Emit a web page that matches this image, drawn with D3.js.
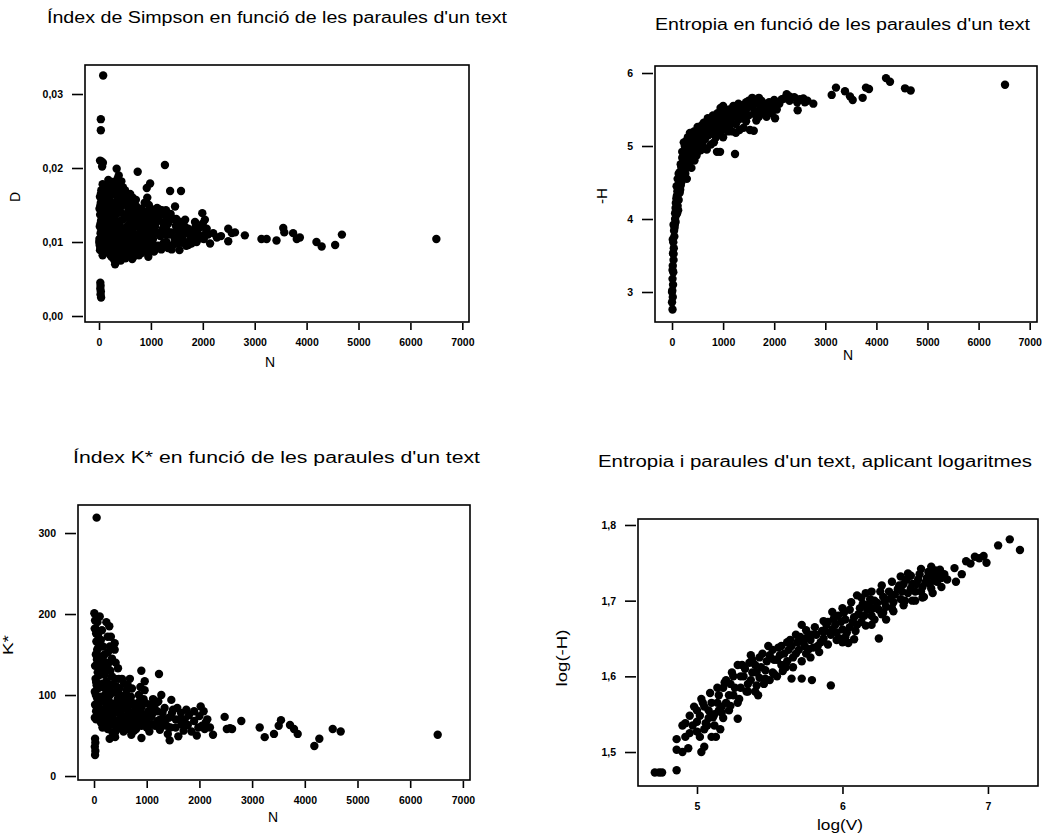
<!DOCTYPE html>
<html>
<head>
<meta charset="utf-8">
<script src="https://cdn.jsdelivr.net/npm/d3@7"></script>
<style>
  body { margin: 0; background: #fff; }
  svg { font-family: "Liberation Sans", Arial, sans-serif; }
</style>
</head>
<body>
<svg id="chart" width="1050" height="838"></svg>
<script>
// ---- data ----

// [N, D]  Simpson index
const simpsonPts = [
  [80,0.0325],[35,0.0266],[35,0.0251],[20,0.0210],[50,0.0209],[75,0.0207],[60,0.0202],
  [25,0.0045],[30,0.0041],[25,0.0037],[35,0.0033],[30,0.0029],[40,0.0025],
  [12,0.0096],[20,0.0089],[8,0.0104],[30,0.0112],[15,0.0121],[40,0.0129],[22,0.0137],[10,0.0145],
  [35,0.0153],[18,0.0161],[45,0.0170],[60,0.0094],[70,0.0082],[55,0.0108],[80,0.0117],[65,0.0126],
  [90,0.0134],[75,0.0143],[85,0.0151],[95,0.0100],
  [5,0.0100],[25,0.0092],[45,0.0098],[50,0.0116],[30,0.0125],[60,0.0133],[50,0.0141],[25,0.0149],
  [55,0.0157],[35,0.0165],[90,0.0160],[100,0.0090],[100,0.0120],[105,0.0142],[90,0.0168],[70,0.0178],[110,0.0174],
  [130,0.0088],[150,0.0097],[125,0.0106],[160,0.0114],[140,0.0123],[175,0.0131],[135,0.0140],
  [165,0.0148],[150,0.0157],[185,0.0166],[140,0.0176],[210,0.0083],[230,0.0092],[200,0.0101],
  [250,0.0110],[215,0.0119],[240,0.0128],[205,0.0137],[260,0.0145],[225,0.0154],[245,0.0168],[270,0.0181],
  [115,0.0097],[180,0.0091],[190,0.0104],[110,0.0113],[200,0.0122],[170,0.0139],[120,0.0150],
  [195,0.0158],[120,0.0163],[210,0.0172],[180,0.0184],[260,0.0087],[280,0.0098],[270,0.0116],
  [290,0.0134],[280,0.0152],[300,0.0165],[240,0.0080],[290,0.0076],
  [310,0.0070],[330,0.0079],[300,0.0088],[350,0.0096],[320,0.0105],[370,0.0114],[340,0.0122],
  [300,0.0131],[360,0.0139],[325,0.0148],[380,0.0157],[340,0.0199],[395,0.0176],[360,0.0186],
  [420,0.0075],[440,0.0086],[410,0.0094],[450,0.0103],[430,0.0112],[405,0.0121],[455,0.0130],
  [420,0.0140],[445,0.0150],[470,0.0165],[430,0.0182],
  [350,0.0075],[380,0.0084],[390,0.0101],[350,0.0109],[400,0.0108],[390,0.0128],[330,0.0139],
  [400,0.0145],[350,0.0160],[410,0.0166],[370,0.0171],[470,0.0080],[480,0.0092],[490,0.0110],
  [470,0.0118],[490,0.0137],[480,0.0155],[460,0.0174],[500,0.0170],[320,0.0177],[380,0.0190],
  [510,0.0078],[540,0.0089],[500,0.0098],[560,0.0107],[520,0.0116],[580,0.0124],[535,0.0133],
  [565,0.0142],[505,0.0152],[590,0.0160],[640,0.0077],[660,0.0086],[620,0.0095],[690,0.0104],
  [650,0.0113],[700,0.0121],[630,0.0130],[680,0.0139],[720,0.0148],[745,0.0195],[710,0.0157],
  [560,0.0081],[600,0.0084],[590,0.0100],[600,0.0112],[540,0.0121],[610,0.0119],[600,0.0137],
  [550,0.0148],[620,0.0151],[560,0.0158],[680,0.0081],[720,0.0090],[700,0.0098],[730,0.0110],
  [740,0.0127],[700,0.0135],[660,0.0145],[740,0.0140],[650,0.0160],[600,0.0165],
  [770,0.0082],[800,0.0091],[760,0.0100],[830,0.0109],[790,0.0118],[850,0.0127],[780,0.0136],
  [820,0.0145],[880,0.0153],[920,0.0173],[985,0.0179],[950,0.0080],[900,0.0088],[970,0.0097],
  [920,0.0106],[1000,0.0115],[940,0.0124],[990,0.0133],[910,0.0141],[960,0.0150],
  [820,0.0085],[860,0.0096],[880,0.0112],[870,0.0120],[830,0.0131],[900,0.0131],[860,0.0140],
  [870,0.0100],[990,0.0088],[1000,0.0105],[960,0.0113],[1000,0.0125],[960,0.0138],[1000,0.0145],[930,0.0160],
  [1060,0.0087],[1100,0.0095],[1040,0.0104],[1150,0.0112],[1080,0.0121],[1130,0.0130],[1060,0.0139],
  [1120,0.0146],[1270,0.0204],[1200,0.0090],[1250,0.0099],[1180,0.0108],[1300,0.0117],[1230,0.0126],
  [1280,0.0135],[1210,0.0143],[1330,0.0092],[1360,0.0110],[1370,0.0169],
  [1050,0.0093],[1090,0.0112],[1020,0.0121],[1100,0.0127],[1040,0.0132],[1170,0.0136],[1150,0.0095],
  [1230,0.0094],[1220,0.0117],[1260,0.0110],[1300,0.0100],[1330,0.0125],[1290,0.0143],[1340,0.0131],[1160,0.0144],
  [1420,0.0096],[1460,0.0104],[1400,0.0113],[1480,0.0122],[1440,0.0131],[1465,0.0148],[1550,0.0089],
  [1590,0.0099],[1530,0.0108],[1620,0.0117],[1560,0.0127],[1580,0.0169],[1680,0.0095],[1700,0.0112],[1650,0.0121],
  [1400,0.0090],[1500,0.0098],[1520,0.0116],[1490,0.0131],[1380,0.0138],[1600,0.0107],[1640,0.0100],
  [1600,0.0122],[1720,0.0118],[1660,0.0130],
  [1720,0.0096],[1760,0.0105],[1800,0.0115],[1850,0.0127],[1880,0.0100],[1920,0.0110],[1950,0.0120],
  [1990,0.0139],[2040,0.0130],[2075,0.0118],[2020,0.0104],[2100,0.0110],[2140,0.0098],
  [1780,0.0098],[1840,0.0108],[1900,0.0117],[1860,0.0120],[1960,0.0105],[2060,0.0112],[2000,0.0125],
  [2200,0.0112],[2270,0.0106],[2350,0.0108],[2490,0.0118],[2490,0.0101],[2560,0.0112],[2620,0.0113],
  [2810,0.0109],[3130,0.0104],[3230,0.0104],[3420,0.0102],[3550,0.0119],[3570,0.0113],[3740,0.0112],
  [3810,0.0104],[3870,0.0106],[4190,0.0100],[4290,0.0094],[4550,0.0096],[4680,0.0110],[6500,0.0104]
];

// [N, -H]  entropy
const entropyPts = [
  [10,2.76],[0,2.86],[15,2.93],[5,3.02],[20,3.10],[10,3.18],[25,3.27],[15,3.36],[30,3.44],[20,3.53],
  [35,3.60],[25,3.68],[45,3.76],[40,3.84],[55,3.92],[60,4.00],[70,3.96],[80,4.05],
  [0,3.00],[10,3.30],[30,3.52],[15,3.72],[50,3.88],[30,3.92],
  [90,4.10],[110,4.18],[75,4.22],[130,4.26],[95,4.32],[150,4.36],[115,4.42],[170,4.46],[140,4.52],
  [200,4.55],[90,4.45],
  [60,4.08],[100,4.08],[70,4.15],[120,4.12],[85,4.28],[120,4.34],[105,4.38],[160,4.40],[130,4.48],
  [180,4.50],[110,4.55],[240,4.58],[150,4.64],[210,4.70],[260,4.62],
  [160,4.60],[220,4.62],[190,4.68],[260,4.68],[170,4.75],[230,4.76],[300,4.74],[200,4.84],[270,4.84],
  [340,4.82],[230,4.92],[310,4.93],[390,4.90],[250,5.00],[330,5.02],[420,4.98],[480,4.87],[440,4.80],
  [380,4.70],[290,4.55],
  [130,4.62],[180,4.72],[250,4.72],[330,4.76],[220,4.80],[300,4.80],[250,4.88],[350,4.88],[280,4.92],
  [200,4.92],[360,4.96],[450,4.93],[400,4.84],[500,4.92],[300,4.98],
  [280,5.07],[360,5.10],[450,5.06],[520,5.02],[600,5.05],[400,5.14],[480,5.15],[560,5.12],[650,5.10],
  [720,5.15],[800,5.18],[860,5.12],[550,5.22],[630,5.24],[700,5.28],[780,5.26],[880,5.24],[950,5.30],
  [1020,5.24],[1100,5.20],[1000,5.12],[650,4.97],[680,4.95],[880,4.92],[940,4.92],[1233,4.89],
  [760,5.02],[820,5.05],[560,4.94],[600,4.98],
  [230,5.05],[310,5.12],[350,5.18],[420,5.04],[430,5.20],[500,5.08],[520,5.18],[600,5.15],[580,5.28],
  [680,5.20],[750,5.22],[840,5.20],[900,5.16],[960,5.20],[1050,5.30],[1120,5.26],[660,5.32],[500,5.26],
  [620,5.32],[740,5.35],[840,5.38],[930,5.40],[1000,5.47],[950,5.52],[1060,5.36],[1150,5.32],
  [1100,5.44],[1200,5.40],[1280,5.45],[1250,5.30],[1350,5.38],[1300,5.52],[1400,5.48],[1450,5.34],
  [1526,5.22],[1600,5.21],[1500,5.42],[1550,5.55],[1620,5.48],[1700,5.40],[1750,5.52],[1180,5.20],
  [1250,5.18],[1320,5.22],[1400,5.25],
  [700,5.38],[780,5.32],[800,5.42],[880,5.32],[890,5.45],[1000,5.36],[1050,5.43],[1120,5.50],
  [1200,5.48],[1150,5.38],[1300,5.36],[1350,5.45],[1420,5.40],[1480,5.52],[1600,5.44],[1650,5.35],
  [1700,5.48],[1800,5.45],[1850,5.40],[1800,5.58],[1900,5.50],[1000,5.55],
  [1300,5.58],[1450,5.60],[1570,5.66],[1650,5.58],[1750,5.62],[1850,5.55],[1900,5.60],[2000,5.63],
  [2016,5.38],[1950,5.45],[2050,5.50],[2100,5.58],[2200,5.65],[2244,5.71],[2300,5.62],[2394,5.67],
  [2459,5.49],[2500,5.64],[2570,5.65],[2650,5.62],[2765,5.58],
  [1200,5.55],[1380,5.56],[1500,5.62],[1620,5.62],[1700,5.66],[2000,5.56],[2150,5.64],[2300,5.68],
  [2450,5.60],[2600,5.60],
  [3125,5.70],[3209,5.80],[3385,5.75],[3483,5.68],[3536,5.63],[3731,5.66],[3796,5.80],[3855,5.78],
  [4188,5.93],[4266,5.88],[4560,5.79],[4671,5.76],[6517,5.84]
];

// [N, K*]
const kstarPts = [
  [20,26],[25,31],[15,36],[25,41],[20,46],[50,319],
  [15,72],[40,80],[20,88],[60,96],[15,104],[50,112],[30,120],[70,128],[20,136],[55,144],[35,150],
  [80,158],[45,166],[75,174],[30,182],[6,201],[108,197],[234,190],[13,182],[90,88],[100,110],
  [110,74],[120,130],[95,160],
  [40,70],[60,84],[35,100],[70,108],[40,116],[90,124],[60,138],[100,148],[60,156],[40,176],
  [65,190],[90,178],[20,192],
  [160,60],[200,68],[170,77],[230,85],[180,93],[250,101],[190,109],[240,117],[200,125],[260,133],
  [171,143],[266,153],[210,62],[280,72],[297,46],[300,82],[270,95],[290,108],[280,140],
  [130,66],[150,82],[130,98],[160,114],[140,130],[170,160],[130,168],[150,180],[200,150],[180,135],
  [210,100],[220,78],[260,58],[240,90],
  [350,54],[400,63],[360,71],[430,79],[380,87],[450,95],[370,103],[420,111],[470,120],[455,133],
  [392,156],[392,164],[410,140],[440,58],[480,70],[500,84],[490,100],[340,123],
  [310,64],[330,75],[320,90],[300,100],[330,113],[310,130],[340,145],[300,160],[320,172],[260,172],
  [290,185],[400,54],[420,66],[410,90],[400,120],[460,88],[480,108],[500,60],[520,76],[520,95],
  [530,120],[400,48],
  [560,55],[600,64],[580,73],[650,81],[600,90],[700,98],[620,106],[570,114],[680,88],[708,51],
  [720,62],[750,72],[660,96],
  [550,68],[580,84],[600,100],[640,74],[650,58],[680,66],[700,78],[740,90],[720,108],[640,112],[680,120],
  [800,58],[850,68],[820,77],[900,85],[880,94],[950,76],[960,106],[962,117],[898,130],[900,47],
  [1000,60],[980,90],[850,100],
  [760,56],[790,66],[790,84],[830,90],[860,78],[900,62],[920,72],[940,95],[990,68],[880,110],
  [1050,55],[1100,64],[1080,73],[1150,82],[1200,68],[1233,126],[1277,100],[1250,57],[1300,78],
  [1180,90],[1120,95],
  [1030,80],[1060,88],[1100,76],[1160,62],[1200,80],[1220,92],[1260,70],[1300,62],[1340,84],[1350,70],
  [1380,62],[1436,44],[1467,94],[1420,72],[1500,82],[1550,60],[1600,49],[1620,70],[1700,56],
  [1650,78],[1752,82],[1780,63],
  [1400,52],[1450,60],[1480,78],[1550,70],[1580,84],[1660,64],[1720,70],[1800,75],[1900,80],
  [1980,60],[2080,80],[2120,66],
  [1850,55],[1900,68],[2024,86],[2000,74],[2050,62],[2100,58],[2150,70],[2258,51],[2200,60],[1950,50],
  [2479,73],[2520,58],[2580,59],[2620,58],[2795,68],[3144,60],[3239,48],[3415,52],[3505,62],
  [3548,69],[3719,63],[3795,58],[3865,52],[4181,37],[4276,46],[4530,58],[4681,55],[6522,51]
];

// [log(V), log(-H)]
const logPts = [
  [4.71,1.473],[4.74,1.473],[4.76,1.473],[4.86,1.476],[4.86,1.503],[4.86,1.517],[4.90,1.500],
  [4.94,1.505],[5.03,1.500],[5.05,1.507],[4.92,1.538],[4.95,1.525],
  [4.90,1.535],[4.95,1.548],[5.00,1.540],[5.00,1.555],[5.05,1.530],[5.05,1.560],[5.08,1.545],
  [5.10,1.520],[5.10,1.565],[5.12,1.535],[5.02,1.520],
  [4.92,1.520],[4.97,1.535],[5.02,1.548],[5.04,1.565],[5.07,1.535],[5.08,1.555],[5.12,1.550],
  [5.15,1.555],[5.15,1.575],[5.18,1.545],[5.20,1.565],[5.20,1.595],[5.22,1.555],[5.25,1.575],
  [5.25,1.600],[5.28,1.565],[5.28,1.544],[5.30,1.585],[5.28,1.615],[5.13,1.520],[5.16,1.530],
  [5.14,1.565],[5.17,1.560],[5.18,1.585],[5.22,1.575],[5.23,1.590],[5.26,1.585],[5.30,1.600],
  [5.32,1.600],[5.35,1.590],[5.38,1.605],[5.40,1.580],[5.40,1.615],[5.43,1.598],[5.45,1.630],
  [5.47,1.608],[5.50,1.595],[5.50,1.628],[5.52,1.635],[5.55,1.600],[5.55,1.622],[5.36,1.618],[5.42,1.575],
  [5.33,1.610],[5.34,1.580],[5.37,1.595],[5.38,1.622],[5.41,1.605],[5.44,1.612],[5.46,1.590],
  [5.48,1.620],[5.52,1.605],[5.53,1.622],
  [5.58,1.615],[5.60,1.630],[5.62,1.620],[5.65,1.640],[5.66,1.625],[5.70,1.635],[5.72,1.620],
  [5.73,1.645],[5.75,1.630],[5.78,1.648],[5.80,1.638],[5.82,1.655],[5.85,1.645],[5.72,1.668],
  [5.75,1.661],[5.65,1.597],[5.72,1.597],[5.79,1.595],[5.92,1.588],
  [5.57,1.628],[5.58,1.640],[5.61,1.612],[5.63,1.635],[5.64,1.648],[5.68,1.630],[5.69,1.645],
  [5.71,1.652],[5.74,1.640],[5.77,1.636],[5.79,1.655],[5.83,1.640],
  [5.88,1.660],[5.90,1.672],[5.92,1.655],[5.95,1.668],[5.97,1.680],[6.00,1.662],[6.02,1.675],
  [6.05,1.665],[6.05,1.688],[6.08,1.678],[6.10,1.668],[6.12,1.690],[6.15,1.680],[6.04,1.644],
  [6.08,1.649],[6.10,1.707],[6.16,1.710],[5.98,1.650],[6.00,1.645],
  [5.86,1.660],[5.87,1.650],[5.89,1.668],[5.93,1.662],[5.94,1.676],[5.96,1.658],[5.99,1.672],
  [6.01,1.684],[6.03,1.658],[6.07,1.672],[6.11,1.682],[6.13,1.672],[6.14,1.696],
  [6.18,1.695],[6.20,1.680],[6.22,1.700],[6.25,1.688],[6.25,1.650],[6.28,1.705],[6.30,1.692],
  [6.32,1.712],[6.35,1.698],[6.38,1.715],[6.40,1.702],[6.42,1.722],[6.45,1.710],[6.45,1.736],
  [6.30,1.675],[6.20,1.668],
  [6.17,1.688],[6.19,1.702],[6.21,1.690],[6.24,1.697],[6.26,1.712],[6.27,1.682],[6.29,1.698],
  [6.33,1.703],[6.34,1.690],[6.36,1.708],[6.39,1.720],[6.41,1.712],[6.43,1.700],[6.44,1.728],
  [6.48,1.722],[6.50,1.712],[6.52,1.728],[6.55,1.718],[6.56,1.705],[6.58,1.730],[6.60,1.722],
  [6.62,1.733],[6.65,1.725],[6.67,1.741],[6.68,1.730],[6.50,1.700],
  [6.47,1.716],[6.51,1.722],[6.53,1.735],[6.54,1.712],[6.57,1.724],[6.59,1.738],[6.61,1.716],
  [6.63,1.727],[6.66,1.733],[6.70,1.735],[6.72,1.728],
  // lower edge of the band
  [5.00,1.527],[5.06,1.538],[5.11,1.546],[5.17,1.552],[5.23,1.561],[5.29,1.570],[5.35,1.580],
  [5.41,1.588],[5.47,1.597],[5.53,1.603],[5.59,1.607],[5.66,1.612],[5.78,1.625],[5.84,1.632],
  [5.90,1.642],[5.96,1.648],[6.02,1.652],[6.09,1.660],[6.16,1.667],[6.22,1.675],[6.28,1.684],
  [6.35,1.686],[6.42,1.694],[6.48,1.700],[6.55,1.704],[6.62,1.710],[6.68,1.718],
  // upper edge of the band
  [4.98,1.560],[5.03,1.570],[5.09,1.578],[5.14,1.585],[5.19,1.592],[5.24,1.605],[5.31,1.615],
  [5.37,1.628],[5.43,1.625],[5.49,1.640],[5.56,1.638],[5.62,1.645],[5.68,1.655],[5.76,1.652],
  [5.81,1.665],[5.87,1.673],[5.93,1.685],[6.00,1.690],[6.06,1.698],[6.13,1.704],[6.20,1.712],
  [6.27,1.720],[6.34,1.725],[6.40,1.732],[6.47,1.733],[6.54,1.742],[6.61,1.745],[6.64,1.740],
  [6.77,1.743],[6.78,1.725],[6.82,1.735],[6.85,1.752],[6.88,1.749],[6.91,1.758],[6.94,1.756],
  [6.97,1.759],[6.99,1.750],[7.07,1.773],[7.15,1.781],[7.22,1.767]
];

// tick values
const nTicks = [0, 1000, 2000, 3000, 4000, 5000, 6000, 7000];
const simpsonTicks = [0, 0.01, 0.02, 0.03];
const entropyTicks = [3, 4, 5, 6];
const kstarTicks = [0, 100, 200, 300];
const logVTicks = [5, 6, 7];
const logHTicks = [1.5, 1.6, 1.7, 1.8];

const titles = [
  "Índex de Simpson en funció de les paraules d'un text",
  "Entropia en funció de les paraules d'un text",
  "Índex K* en funció de les paraules d'un text",
  "Entropia i paraules d'un text, aplicant logaritmes"
];
const xLabels = ["N", "N", "N", "log(V)"];
const yLabels = ["D", "-H", "K*", "log(-H)"];

const comma = f => (d => d3.format(f)(d).replace(".", ","));

// layout of each panel (pixel box and visible domain)
const panels = [
  { pts: simpsonPts, xTicks: nTicks, yTicks: simpsonTicks, xFmt: d3.format("d"), yFmt: comma(".2f"),
    left: 85, right: 469, top: 65, bottom: 322, xDom: [-270, 7129], yDom: [-0.00081, 0.03392],
    titleX: 47, titleY: 23, titleW: 460, xlabX: 270, xlabY: 367, xlabW: 0, ylabX: 20, ylabY: 197, ylabW: 0 },
  { pts: entropyPts, xTicks: nTicks, yTicks: entropyTicks, xFmt: d3.format("d"), yFmt: d3.format("d"),
    left: 655, right: 1037, top: 66, bottom: 322, xDom: [-333, 7143], yDom: [2.589, 6.096],
    titleX: 655, titleY: 30, titleW: 375, xlabX: 848, xlabY: 360, xlabW: 0, ylabX: 607, ylabY: 196, ylabW: 16 },
  { pts: kstarPts, xTicks: nTicks, yTicks: kstarTicks, xFmt: d3.format("d"), yFmt: d3.format("d"),
    left: 78, right: 470, top: 505, bottom: 780, xDom: [-304, 7135], yDom: [-4.9, 334.6],
    titleX: 73, titleY: 463, titleW: 407, xlabX: 273, xlabY: 822, xlabW: 0, ylabX: 13, ylabY: 645, ylabW: 20 },
  { pts: logPts, xTicks: logVTicks, yTicks: logHTicks, xFmt: d3.format("d"), yFmt: comma(".1f"),
    left: 638, right: 1038, top: 519, bottom: 786, xDom: [4.5945, 7.344], yDom: [1.4551, 1.8079],
    titleX: 598, titleY: 467, titleW: 434, xlabX: 840, xlabY: 830, xlabW: 46, ylabX: 567, ylabY: 658, ylabW: 57 }
];

const svg = d3.select("#chart");

function fitText(sel, w) {
  if (w > 0) sel.attr("textLength", w).attr("lengthAdjust", "spacingAndGlyphs");
  return sel;
}

panels.forEach((p, i) => {
  const g = svg.append("g");
  const x = d3.scaleLinear().domain(p.xDom).range([p.left, p.right]);
  const y = d3.scaleLinear().domain(p.yDom).range([p.bottom, p.top]);

  // points
  g.selectAll("circle")
    .data(p.pts)
    .join("circle")
    .attr("cx", d => x(d[0]))
    .attr("cy", d => y(d[1]))
    .attr("r", 4.2)
    .attr("fill", "#000");

  // frame
  g.append("rect")
    .attr("x", p.left).attr("y", p.top)
    .attr("width", p.right - p.left).attr("height", p.bottom - p.top)
    .attr("fill", "none").attr("stroke", "#000").attr("stroke-width", 1.6);

  // axes: ticks only, sitting just outside the frame
  const xa = g.append("g")
    .attr("transform", "translate(0," + (p.bottom + 1) + ")")
    .call(d3.axisBottom(x).tickValues(p.xTicks).tickSize(7).tickPadding(9).tickFormat(p.xFmt));
  const ya = g.append("g")
    .attr("transform", "translate(" + (p.left - 2) + ",0)")
    .call(d3.axisLeft(y).tickValues(p.yTicks).tickSize(11).tickPadding(9).tickFormat(p.yFmt));
  [xa, ya].forEach(a => {
    a.select(".domain").remove();
    a.selectAll("line").attr("stroke", "#000").attr("stroke-width", 1.6);
    a.selectAll("text")
      .attr("fill", "#000")
      .style("font-family", "'Liberation Sans', Arial, sans-serif")
      .style("font-size", "10.5px")
      .style("font-weight", "bold");
  });

  // title
  fitText(g.append("text")
    .attr("x", p.titleX).attr("y", p.titleY)
    .style("font-size", "16px")
    .text(titles[i]), p.titleW);

  // axis titles
  fitText(g.append("text")
    .attr("x", p.xlabX).attr("y", p.xlabY)
    .attr("text-anchor", "middle")
    .style("font-size", "14px")
    .text(xLabels[i]), p.xlabW);
  fitText(g.append("text")
    .attr("transform", "translate(" + p.ylabX + "," + p.ylabY + ") rotate(-90)")
    .attr("text-anchor", "middle")
    .style("font-size", "14px")
    .text(yLabels[i]), p.ylabW);
});
</script>
</body>
</html>
